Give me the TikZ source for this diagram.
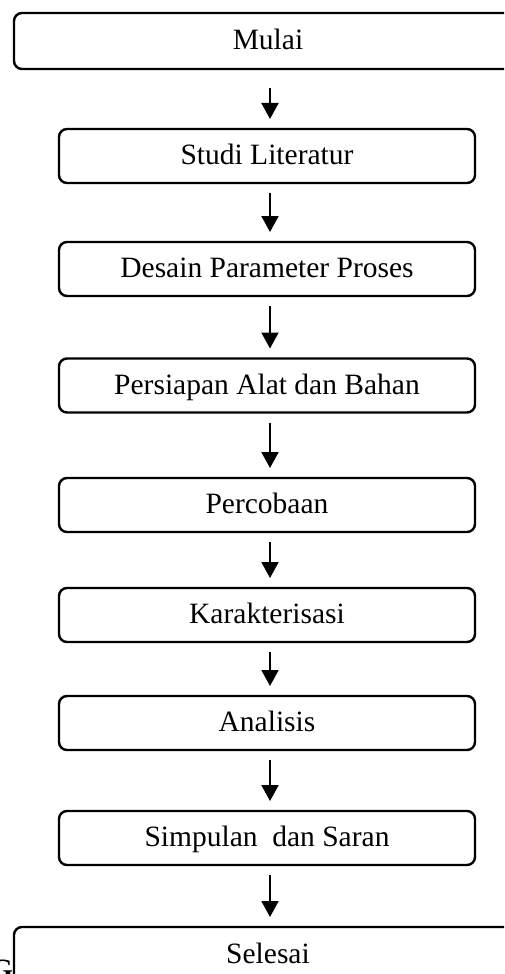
\documentclass[tikz,border=0pt]{standalone}
\usepackage{fontspec}
\setmainfont{Liberation Serif}
\usetikzlibrary{arrows.meta}
\tikzset{
  stepbox/.style={draw, line width=1.2pt, rounded corners=4pt, minimum width=208pt, minimum height=27pt,
    inner sep=0pt, outer sep=0pt, text height=0.9em, text depth=0.04em, font=\fontsize{14.75}{17}\selectfont},
  endbox/.style={stepbox, minimum width=254pt, minimum height=28pt},
  flow/.style={-{Triangle[length=8pt,width=8.5pt]}, line width=1pt, shorten <=5pt, shorten >=5pt}
}
\begin{document}
\begin{tikzpicture}[x=0.5pt,y=-0.5pt]
            \useasboundingbox (0,0) rectangle (504,974);
            \clip (0,0) rectangle (504,974);
            \node[endbox] (mulai) at (268,41) {Mulai};
            \node[stepbox] (studi) at (267,156) {Studi Literatur};
            \node[stepbox] (desain) at (267,269) {Desain Parameter Proses};
            \node[stepbox] (persiapan) at (267,385.5) {Persiapan Alat dan Bahan};
            \node[stepbox] (percobaan) at (267,505) {Percobaan};
            \node[stepbox] (karakterisasi) at (267,615) {Karakterisasi};
            \node[stepbox] (analisis) at (267,723) {Analisis};
            \node[stepbox] (simpulan) at (267,838) {Simpulan\ \ dan Saran};
            \node[endbox] (selesai) at (268,955) {Selesai};
            \node[anchor=north east, inner sep=0pt, font=\fontsize{14.75}{17}\selectfont\bfseries] (cap) at (13.5,960) {G};
            \draw[flow, shorten <=9.5pt] ([xshift=1pt]mulai.south) -- ([xshift=1.5pt]studi.north);
            \draw[flow] ([xshift=1.5pt]studi.south) -- ([xshift=1.5pt]desain.north);
            \draw[flow] ([xshift=1.5pt]desain.south) -- ([xshift=1.5pt]persiapan.north);
            \draw[flow] ([xshift=1.5pt]persiapan.south) -- ([xshift=1.5pt]percobaan.north);
            \draw[flow] ([xshift=1.5pt]percobaan.south) -- ([xshift=1.5pt]karakterisasi.north);
            \draw[flow] ([xshift=1.5pt]karakterisasi.south) -- ([xshift=1.5pt]analisis.north);
            \draw[flow] ([xshift=1.5pt]analisis.south) -- ([xshift=1.5pt]simpulan.north);
            \draw[flow] ([xshift=1.5pt]simpulan.south) -- ([xshift=1pt]selesai.north);
          \end{tikzpicture}
\end{document}
